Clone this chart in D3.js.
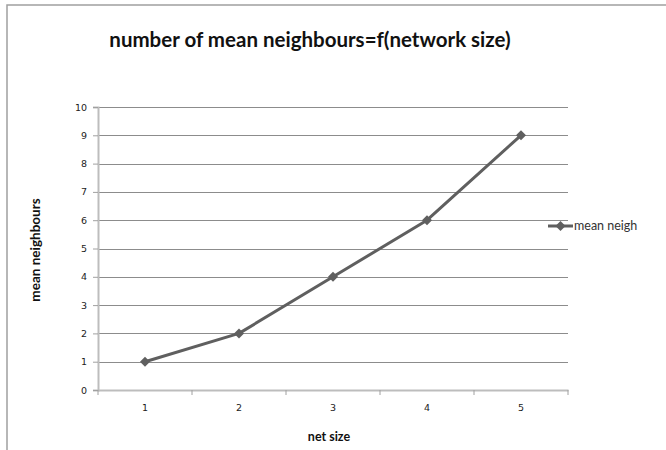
<!DOCTYPE html>
<html>
<head>
<meta charset="utf-8">
<script src="https://cdn.jsdelivr.net/npm/d3@7"></script>
<style>
  html, body { margin: 0; padding: 0; background: #fff; }
  svg { display: block; }
</style>
</head>
<body>
<svg id="chart" width="666" height="450"></svg>
<script>
// Network sizes (category axis) and mean neighbour counts
const netSizes = ["1", "2", "3", "4", "5"];
const meanNeigh = [1, 2, 4, 6, 9];
const yTicks = [0, 1, 2, 3, 4, 5, 6, 7, 8, 9, 10];
const seriesName = "mean neigh";

const svg = d3.select("#chart");
const W = 666, H = 450;
const plot = { left: 98, right: 568, top: 107, bottom: 390 };

// Outer chart frame (top and left edges)
svg.append("path")
  .attr("d", `M7,${H} L7,5 L${W},5`)
  .attr("fill", "none")
  .attr("stroke", "#a0a0a0")
  .attr("stroke-width", 1.5);

const x = d3.scaleBand().domain(netSizes).range([plot.left, plot.right]);
const y = d3.scaleLinear().domain([0, 10]).range([plot.bottom, plot.top]);

// Horizontal gridlines
svg.append("g")
  .selectAll("line")
  .data(yTicks.filter(d => d > 0))
  .join("line")
  .attr("x1", plot.left).attr("x2", plot.right)
  .attr("y1", d => Math.round(y(d)) + 0.5)
  .attr("y2", d => Math.round(y(d)) + 0.5)
  .attr("stroke", "#8c8c8c")
  .attr("stroke-width", 1);

// Y axis
const yAxis = svg.append("g")
  .attr("transform", `translate(${plot.left},0)`)
  .call(d3.axisLeft(y).tickValues(yTicks).tickSize(5).tickPadding(6).tickFormat(d3.format("d")));
yAxis.select(".domain").attr("stroke", "#bdbdbd").attr("stroke-width", 2);
yAxis.selectAll(".tick line").attr("stroke", "#a0a0a0");
yAxis.selectAll(".tick text")
  .attr("font-family", "DejaVu Sans, Verdana, sans-serif")
  .attr("font-size", 9.5)
  .attr("fill", "#222");

// X axis with ticks between categories
const xAxis = svg.append("g")
  .attr("transform", `translate(0,${plot.bottom})`)
  .call(d3.axisBottom(x).tickSize(0).tickPadding(14));
xAxis.select(".domain").attr("stroke", "#bdbdbd").attr("stroke-width", 2);
xAxis.selectAll(".tick text")
  .attr("font-family", "DejaVu Sans, Verdana, sans-serif")
  .attr("font-size", 9.5)
  .attr("fill", "#222");
xAxis.append("g")
  .selectAll("line")
  .data(d3.range(netSizes.length + 1))
  .join("line")
  .attr("x1", i => plot.left + i * x.step())
  .attr("x2", i => plot.left + i * x.step())
  .attr("y1", 0).attr("y2", 5)
  .attr("stroke", "#a0a0a0");

// Series line
const pts = netSizes.map((c, i) => [x(c) + x.bandwidth() / 2, y(meanNeigh[i])]);
svg.append("path")
  .datum(pts)
  .attr("d", d3.line())
  .attr("fill", "none")
  .attr("stroke", "#5f5f5f")
  .attr("stroke-width", 3)
  .attr("stroke-linejoin", "round");

// Square diamond markers
const diamond = "M0,-5L5,0L0,5L-5,0Z";
svg.append("g")
  .selectAll("path")
  .data(pts)
  .join("path")
  .attr("d", diamond)
  .attr("transform", d => `translate(${d[0]},${d[1]})`)
  .attr("fill", "#5f5f5f");

// Legend
const lg = svg.append("g").attr("transform", "translate(548,226)");
lg.append("line").attr("x1", 0).attr("x2", 25).attr("y1", 0).attr("y2", 0)
  .attr("stroke", "#5f5f5f").attr("stroke-width", 3);
lg.append("path").attr("d", diamond).attr("transform", "translate(12.5,0)").attr("fill", "#5f5f5f");
lg.append("text").attr("x", 26).attr("y", 4)
  .attr("font-family", "Lato, Open Sans, sans-serif")
  .attr("font-size", 12.5)
  .attr("fill", "#333")
  .text(seriesName);

// Title
svg.append("text")
  .attr("x", 310).attr("y", 47)
  .attr("text-anchor", "middle")
  .attr("font-family", "Lato, Open Sans, sans-serif")
  .attr("font-weight", "bold")
  .attr("font-size", 20.5)
  .attr("fill", "#111")
  .text("number of mean neighbours=f(network size)");

// Axis titles
svg.append("text")
  .attr("transform", "translate(40,250) rotate(-90)")
  .attr("text-anchor", "middle")
  .attr("font-family", "Lato, Open Sans, sans-serif")
  .attr("font-weight", "bold")
  .attr("font-size", 13.5)
  .attr("fill", "#111")
  .text("mean neighbours");

svg.append("text")
  .attr("x", 329).attr("y", 441)
  .attr("text-anchor", "middle")
  .attr("font-family", "Lato, Open Sans, sans-serif")
  .attr("font-weight", "bold")
  .attr("font-size", 12.5)
  .attr("fill", "#111")
  .text("net size");
</script>
</body>
</html>
